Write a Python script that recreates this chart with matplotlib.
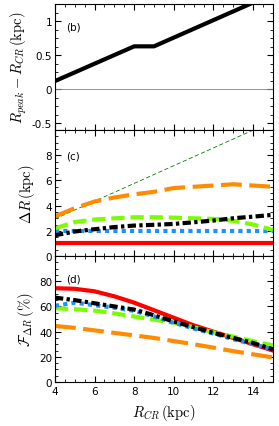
import numpy as np
import matplotlib
matplotlib.use("Agg")
import matplotlib.pyplot as plt
from matplotlib.ticker import MultipleLocator

plt.rcParams['mathtext.fontset'] = 'cm'
plt.rcParams['font.size'] = 7.5

# panel (b): R_peak - R_CR
rcr_b = [4, 8, 9, 15]
dpeak = [0.12, 0.63, 0.63, 1.40]

# panel (c) and (d): common x
rcr = [4, 5, 6, 7, 8, 9, 10, 11, 12, 13, 14, 15]

# panel (c): Delta R (kpc)
dr_red = [1.0] * 12
dr_blue = [2.0] * 12
dr_black = [1.65, 1.95, 2.13, 2.3, 2.42, 2.48, 2.55, 2.68, 2.82, 3.0, 3.13, 3.27]
dr_lime = [2.2, 2.7, 2.9, 3.0, 3.08, 3.08, 3.05, 3.0, 2.95, 2.8, 2.5, 2.07]
dr_orange = [3.15, 3.8, 4.33, 4.65, 4.9, 5.1, 5.4, 5.5, 5.6, 5.7, 5.6, 5.5]
ref_x = [4, 15]
ref_y = [2.95, 10.7]

# panel (d): F_DeltaR (%)
f_red = [74.5, 74, 72, 68, 63, 57, 51, 45, 40, 35, 30, 25]
f_black = [67, 65, 62.5, 60, 57.5, 53, 48, 43.5, 39, 35, 31, 26]
f_blue = [60.5, 63, 61, 59, 56.5, 52, 47, 42.5, 38.5, 34, 30, 26]
f_lime = [58.6, 57.8, 56.7, 54.5, 52, 49.5, 47, 43.5, 39.5, 36, 32.5, 29]
f_orange = [44.5, 43, 41, 39, 37, 35, 32.5, 30, 27.3, 24.5, 22, 19.5]

fig, axes = plt.subplots(3, 1, figsize=(2.79, 4.27), dpi=100, sharex=True)
fig.subplots_adjust(left=0.197, right=0.978, bottom=0.103, top=0.988, hspace=0)

ax = axes[0]
ax.axhline(0, color='gray', lw=0.6)
ax.plot(rcr_b, dpeak, color='k', lw=3)
ax.set_ylim(-0.6, 1.25)
ax.set_yticks([-0.5, 0, 0.5, 1])
ax.set_yticklabels(['-0.5', '0', '0.5', '1'])
ax.yaxis.set_minor_locator(MultipleLocator(0.125))
ax.set_ylabel(r'$R_{peak}-R_{CR}\,(\mathrm{kpc})$', fontsize=10.5, labelpad=2)
ax.text(0.05, 0.82, '(b)', transform=ax.transAxes, va='center')

ax = axes[1]
ax.plot(ref_x, ref_y, color='green', lw=0.6, dashes=(5, 3))
ax.plot(rcr, dr_red, color='red', lw=3)
ax.plot(rcr, dr_blue, color='dodgerblue', lw=3, dashes=(1, 1))
ax.plot(rcr, dr_lime, color='lawngreen', lw=3, dashes=(3.2, 1.4))
ax.plot(rcr, dr_black, color='k', lw=3, dashes=(2, 0.8, 0.8, 0.8))
ax.plot(rcr, dr_orange, color='darkorange', lw=3, dashes=(5, 1.8))
ax.set_ylim(0, 10)
ax.set_yticks([0, 2, 4, 6, 8])
ax.yaxis.set_minor_locator(MultipleLocator(0.5))
ax.set_ylabel(r'$\Delta R\,(\mathrm{kpc})$', fontsize=10.5, labelpad=6)
ax.text(0.05, 0.8, '(c)', transform=ax.transAxes, va='center')

ax = axes[2]
ax.plot(rcr, f_red, color='red', lw=3)
ax.plot(rcr, f_orange, color='darkorange', lw=3, dashes=(5, 1.8))
ax.plot(rcr, f_lime, color='lawngreen', lw=3, dashes=(3.2, 1.4))
ax.plot(rcr, f_blue, color='dodgerblue', lw=3, dashes=(1, 1))
ax.plot(rcr, f_black, color='k', lw=3, dashes=(2, 0.8, 0.8, 0.8))
ax.set_ylim(0, 100)
ax.set_yticks([0, 20, 40, 60, 80])
ax.yaxis.set_minor_locator(MultipleLocator(5))
ax.set_ylabel(r'$\mathcal{F}_{\Delta R}\,(\%)$', fontsize=10.5, labelpad=2)
ax.text(0.05, 0.82, '(d)', transform=ax.transAxes, va='center')

ax.set_xlim(4, 15)
ax.set_xticks([4, 6, 8, 10, 12, 14])
ax.xaxis.set_minor_locator(MultipleLocator(0.5))
ax.set_xlabel(r'$R_{CR}\,(\mathrm{kpc})$', fontsize=10.5, labelpad=4)

for a in axes:
    a.tick_params(which='both', direction='in', top=True, right=True, pad=2)
    a.tick_params(which='major', length=4, width=0.8)
    a.tick_params(which='minor', length=2, width=0.6)
axes[2].tick_params(axis='x', pad=3)

fig.savefig('out.png', dpi=100)
